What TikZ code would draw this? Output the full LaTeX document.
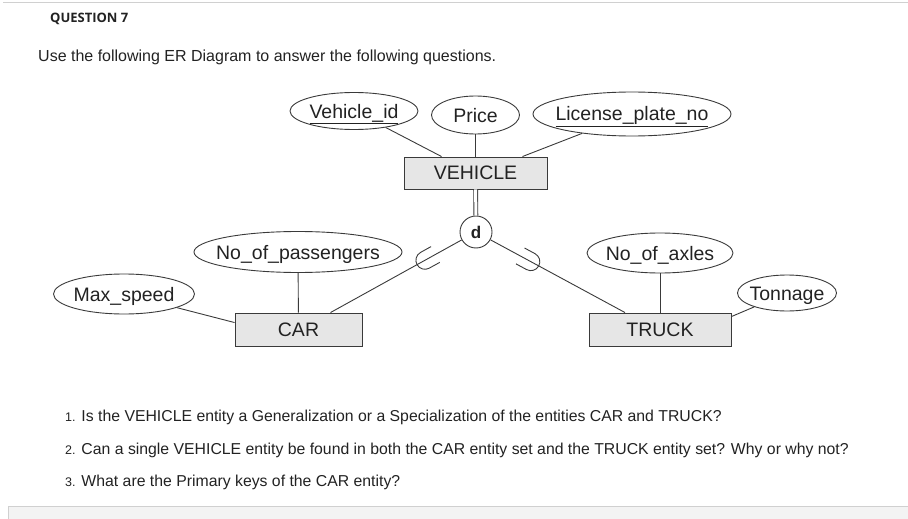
\documentclass[tikz,border=0pt]{standalone}
\usepackage{fontspec}
\setmainfont{Liberation Sans}
\newfontfamily\headfont{Open Sans}
\usetikzlibrary{shapes.geometric}

\definecolor{linegray}{HTML}{3A3A3A}
\definecolor{boxgray}{HTML}{E6E6E6}
\definecolor{textgray}{HTML}{222222}
\definecolor{rulegray}{HTML}{D0D0D0}
\definecolor{barfill}{HTML}{F3F3F3}

\tikzset{
  subsetsym/.pic={\draw[link] (-12pt,9pt) -- (0pt,9pt) arc[start angle=90,end angle=-90,radius=9pt] -- (-12pt,-9pt);}
}

\begin{document}
\begin{tikzpicture}[x=1pt,y=-1pt,
  every node/.style={text=textgray},
  link/.style={draw=linegray,line width=0.9pt},
  attr/.style={ellipse,draw=linegray,line width=0.9pt,inner xsep=-12pt,inner ysep=0pt,text height=16pt,text depth=2pt,font=\fontsize{19.5}{22}\selectfont},
  entity/.style={rectangle,draw=linegray,fill=boxgray,line width=0.9pt,inner sep=0pt,font=\fontsize{19.5}{22}\selectfont},
  disj/.style={circle,draw=linegray,fill=white,line width=0.9pt,inner sep=0pt,minimum size=32pt,font=\fontsize{17}{20}\selectfont\bfseries},
  txt/.style={anchor=base west,inner sep=0pt},
  qtxt/.style={txt,font=\fontsize{15.8}{18}\selectfont}]
\useasboundingbox (0,0) rectangle (908,519);

% page frame
\draw[rulegray,line width=1pt] (3,2.5) -- (908,2.5);
\fill[barfill] (8,506) rectangle (908,519);
\draw[rulegray,line width=1pt] (908,506) -- (8,506) -- (8,519);

% heading
\node[txt,font=\headfont\fontsize{13}{15}\selectfont\bfseries] (head) at (50,23) {QUESTION 7};
\node[txt,font=\fontsize{16}{19}\selectfont] (intro) at (38,62) {Use the following ER Diagram to answer the following questions.};

% entities
\node[entity,minimum width=143pt,minimum height=32pt] (vehicle) at (475.5,173) {VEHICLE};
\node[entity,minimum width=127pt,minimum height=33pt] (car) at (298.5,329.5) {CAR};
\node[entity,minimum width=142pt,minimum height=33pt] (truck) at (660,329.5) {TRUCK};
\node[disj] (d) at (476,232) {d};

% attributes
\node[attr,minimum width=128pt,minimum height=37pt] (vid) at (354,111) {\underline{Vehicle\_id}};
\node[attr,minimum width=88pt,minimum height=38pt] (price) at (475.5,115) {Price};
\node[attr,minimum width=198pt,minimum height=44pt] (lic) at (632,114) {\underline{License\_plate\_no}};
\node[attr,minimum width=208pt,minimum height=41pt] (pass) at (298,252) {No\_of\_passengers};
\node[attr,minimum width=141pt,minimum height=40pt] (speed) at (124,294) {Max\_speed};
\node[attr,minimum width=146pt,minimum height=40pt] (axles) at (660,253) {No\_of\_axles};
\node[attr,minimum width=99pt,minimum height=36pt] (ton) at (787,293) {Tonnage};

% links
\draw[link] (vid) -- ([xshift=38pt]vehicle.north west);
\draw[link] (price) -- (vehicle);
\draw[link] (lic) -- ([xshift=-25pt]vehicle.north east);
\draw[link,double=white,double distance=3pt] (vehicle) -- (d);
\draw[link] (d) -- ([xshift=32pt]car.north) pic[pos=0.28,sloped,allow upside down]{subsetsym};
\draw[link] (d) -- ([xshift=-35pt]truck.north) pic[pos=0.30,sloped,allow upside down]{subsetsym};
\draw[link] (pass) -- (car);
\draw[link] (speed) -- ([yshift=-10pt]car.north west);
\draw[link] (axles) -- (truck);
\draw[link] (ton) -- ([yshift=-4pt]truck.north east);

% questions
\node[qtxt] (q1) at (65,421) {{\fontsize{12.5}{14}\selectfont 1.} Is the VEHICLE entity a Generalization or a Specialization of the entities CAR and TRUCK?};
\node[qtxt] (q2) at (65,454) {{\fontsize{12.5}{14}\selectfont 2.} Can a single VEHICLE entity be found in both the CAR entity set and the TRUCK entity set? Why or why not?};
\node[qtxt] (q3) at (65,486) {{\fontsize{12.5}{14}\selectfont 3.} What are the Primary keys of the CAR entity?};
\end{tikzpicture}
\end{document}
